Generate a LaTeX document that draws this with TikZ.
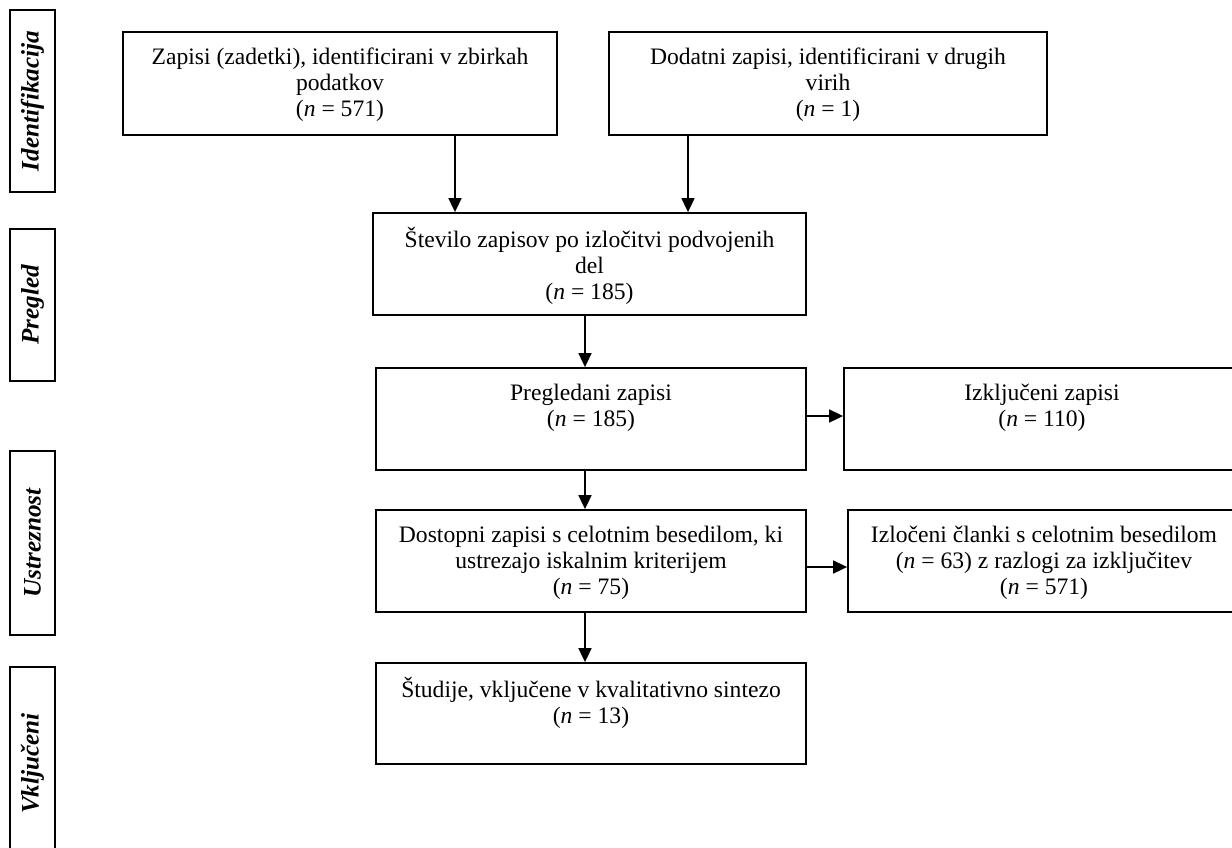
\documentclass[tikz,border=0pt]{standalone}
\usepackage{fontspec}
\setmainfont{Liberation Serif}
\usetikzlibrary{arrows.meta}
\begin{document}
\begin{tikzpicture}[x=0.5pt,y=-0.5pt,
  box/.style={draw, line width=0.9pt, inner sep=0pt},
  txt/.style={align=center, inner sep=0pt, anchor=north, font=\fontsize{11.8}{12.9}\selectfont},
  side/.style={font=\fontsize{12.6}{13}\selectfont\bfseries\itshape, rotate=90, inner sep=0pt},
  arr/.style={line width=0.85pt, -{Triangle[length=7pt,width=6.5pt]}}]
\useasboundingbox (0,0) rectangle (1232,847);
% side boxes
\node[box, minimum width=22.5pt, minimum height=91pt] (sid) at (32.5,101) {};
\node[side] (sidt) at (sid.center) {Identifikacija};
\node[box, minimum width=22.5pt, minimum height=76pt] (spr) at (32.5,305) {};
\node[side] (sprt) at (spr.center) {Pregled};
\node[box, minimum width=22.5pt, minimum height=92pt] (sus) at (32.5,543) {};
\node[side] (sust) at (sus.center) {Ustreznost};
\node[box, minimum width=22.5pt, minimum height=96.5pt] (svk) at (32.5,763.5) {};
\node[side] (svkt) at (svk.center) {Vključeni};
% main boxes
\node[box, minimum width=217pt, minimum height=51.5pt] (zap) at (340,83.5) {};
\node[txt] (zapt) at ([yshift=-7.5pt]zap.north) {\strut Zapisi (zadetki), identificirani v zbirkah\\podatkov\\(\textit{n} = 571)};
\node[box, minimum width=219pt, minimum height=51.5pt] (dod) at (828,83.5) {};
\node[txt] (dodt) at ([yshift=-7.5pt]dod.north) {\strut Dodatni zapisi, identificirani v drugih\\virih\\(\textit{n} = 1)};
\node[box, minimum width=216.5pt, minimum height=51pt] (stev) at (589.5,264) {};
\node[txt] (stevt) at ([yshift=-7.5pt]stev.north) {\strut Število zapisov po izločitvi podvojenih\\del\\(\textit{n} = 185)};
\node[box, minimum width=215pt, minimum height=51pt] (preg) at (591,419) {};
\node[txt] (pregt) at ([yshift=-7.5pt]preg.north) {\strut Pregledani zapisi\\(\textit{n} = 185)};
\node[box, minimum width=198pt, minimum height=51pt] (izk) at (1042,419) {};
\node[txt] (izkt) at ([yshift=-7.5pt]izk.north) {\strut Izključeni zapisi\\(\textit{n} = 110)};
\node[box, minimum width=215pt, minimum height=51pt] (dost) at (591,561) {};
\node[txt] (dostt) at ([yshift=-7.5pt]dost.north) {\strut Dostopni zapisi s celotnim besedilom, ki\\ustrezajo iskalnim kriterijem\\(\textit{n} = 75)};
\node[box, minimum width=196pt, minimum height=51pt] (izl) at (1044,561) {};
\node[txt] (izlt) at ([yshift=-7.5pt]izl.north) {\strut Izločeni članki s celotnim besedilom\\(\textit{n} = 63) z razlogi za izključitev\\(\textit{n} = 571)};
\node[box, minimum width=215pt, minimum height=50.5pt] (stud) at (591,713.5) {};
\node[txt] (studt) at ([yshift=-7.5pt]stud.north) {\strut Študije, vključene v kvalitativno sintezo\\(\textit{n} = 13)};
% connectors
\coordinate (c1) at (455,0);
\coordinate (c2) at (688,0);
\coordinate (c3) at (585,0);
\coordinate (r1) at (0,416);
\coordinate (r2) at (0,567);
\draw[arr] (zap.south -| c1) -- (stev.north -| c1);
\draw[arr] (dod.south -| c2) -- (stev.north -| c2);
\draw[arr] (stev.south -| c3) -- (preg.north -| c3);
\draw[arr] (preg.south -| c3) -- (dost.north -| c3);
\draw[arr] (dost.south -| c3) -- (stud.north -| c3);
\draw[arr] (preg.east |- r1) -- (izk.west |- r1);
\draw[arr] (dost.east |- r2) -- (izl.west |- r2);
\end{tikzpicture}
\end{document}
